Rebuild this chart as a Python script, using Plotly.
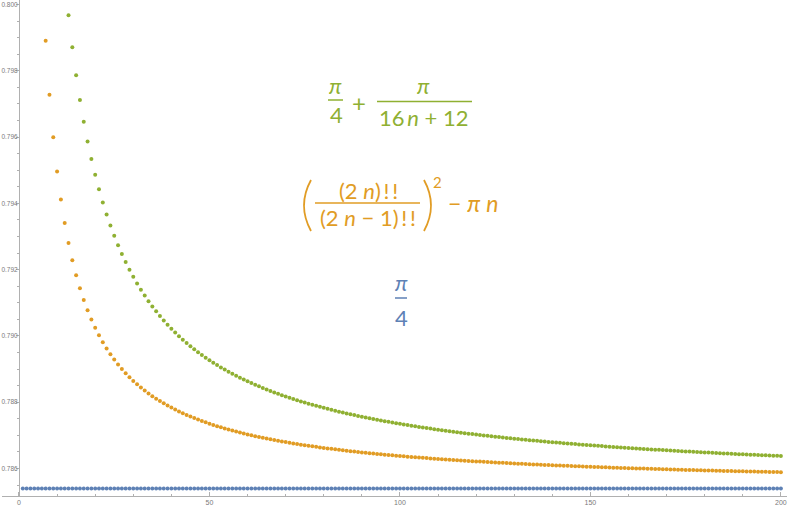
import plotly.graph_objects as go

# ---------------- data ----------------
n_values = list(range(1, 201))

# pi/4 (constant blue series)
blue_values = [0.785398] * 200

# ((2n)!!/(2n-1)!!)^2 - pi n   (orange series)
orange_values = [
    0.858407, 0.827926, 0.815222, 0.808323, 0.804005, 0.801050, 0.798904, 0.797274, 0.795994, 0.794964,
    0.794115, 0.793405, 0.792802, 0.792283, 0.791832, 0.791436, 0.791087, 0.790775, 0.790496, 0.790245,
    0.790017, 0.789809, 0.789620, 0.789446, 0.789285, 0.789138, 0.789000, 0.788873, 0.788754, 0.788643,
    0.788539, 0.788442, 0.788351, 0.788264, 0.788183, 0.788106, 0.788034, 0.787965, 0.787899, 0.787837,
    0.787778, 0.787722, 0.787668, 0.787617, 0.787568, 0.787521, 0.787476, 0.787433, 0.787392, 0.787352,
    0.787314, 0.787277, 0.787242, 0.787208, 0.787175, 0.787144, 0.787113, 0.787084, 0.787055, 0.787028,
    0.787001, 0.786975, 0.786950, 0.786926, 0.786903, 0.786880, 0.786858, 0.786837, 0.786816, 0.786796,
    0.786776, 0.786757, 0.786739, 0.786720, 0.786703, 0.786686, 0.786669, 0.786653, 0.786637, 0.786622,
    0.786607, 0.786592, 0.786577, 0.786563, 0.786550, 0.786537, 0.786524, 0.786511, 0.786498, 0.786486,
    0.786474, 0.786462, 0.786451, 0.786440, 0.786429, 0.786418, 0.786408, 0.786397, 0.786387, 0.786377,
    0.786368, 0.786358, 0.786349, 0.786340, 0.786331, 0.786322, 0.786313, 0.786305, 0.786297, 0.786289,
    0.786281, 0.786273, 0.786265, 0.786257, 0.786250, 0.786243, 0.786235, 0.786228, 0.786221, 0.786214,
    0.786208, 0.786201, 0.786195, 0.786188, 0.786182, 0.786176, 0.786170, 0.786164, 0.786158, 0.786152,
    0.786146, 0.786140, 0.786135, 0.786129, 0.786124, 0.786119, 0.786113, 0.786108, 0.786103, 0.786098,
    0.786093, 0.786088, 0.786083, 0.786079, 0.786074, 0.786069, 0.786065, 0.786060, 0.786056, 0.786051,
    0.786047, 0.786043, 0.786039, 0.786035, 0.786030, 0.786026, 0.786022, 0.786018, 0.786015, 0.786011,
    0.786007, 0.786003, 0.785999, 0.785996, 0.785992, 0.785989, 0.785985, 0.785982, 0.785978, 0.785975,
    0.785971, 0.785968, 0.785965, 0.785961, 0.785958, 0.785955, 0.785952, 0.785949, 0.785946, 0.785943,
    0.785940, 0.785937, 0.785934, 0.785931, 0.785928, 0.785925, 0.785922, 0.785920, 0.785917, 0.785914,
    0.785911, 0.785909, 0.785906, 0.785903, 0.785901, 0.785898, 0.785896, 0.785893, 0.785891, 0.785888,
]

# pi/4 + pi/(16n+12)   (green series)
green_values = [
    0.897598, 0.856798, 0.837758, 0.826735, 0.819546, 0.814487, 0.810734, 0.807838, 0.805537, 0.803663,
    0.802109, 0.800798, 0.799678, 0.798710, 0.797865, 0.797121, 0.796460, 0.795870, 0.795340, 0.794861,
    0.794426, 0.794029, 0.793666, 0.793332, 0.793023, 0.792738, 0.792474, 0.792228, 0.791998, 0.791784,
    0.791582, 0.791394, 0.791216, 0.791049, 0.790891, 0.790741, 0.790600, 0.790465, 0.790338, 0.790217,
    0.790101, 0.789991, 0.789886, 0.789786, 0.789690, 0.789598, 0.789510, 0.789426, 0.789345, 0.789267,
    0.789192, 0.789120, 0.789051, 0.788985, 0.788920, 0.788858, 0.788798, 0.788740, 0.788684, 0.788630,
    0.788578, 0.788527, 0.788478, 0.788431, 0.788385, 0.788340, 0.788296, 0.788254, 0.788213, 0.788174,
    0.788135, 0.788097, 0.788061, 0.788025, 0.787990, 0.787957, 0.787924, 0.787892, 0.787860, 0.787830,
    0.787800, 0.787771, 0.787743, 0.787715, 0.787688, 0.787662, 0.787636, 0.787611, 0.787586, 0.787562,
    0.787538, 0.787515, 0.787493, 0.787471, 0.787449, 0.787428, 0.787407, 0.787387, 0.787367, 0.787347,
    0.787328, 0.787309, 0.787291, 0.787273, 0.787255, 0.787238, 0.787221, 0.787204, 0.787187, 0.787171,
    0.787155, 0.787140, 0.787124, 0.787109, 0.787095, 0.787080, 0.787066, 0.787052, 0.787038, 0.787024,
    0.787011, 0.786998, 0.786985, 0.786972, 0.786960, 0.786947, 0.786935, 0.786923, 0.786912, 0.786900,
    0.786889, 0.786877, 0.786866, 0.786855, 0.786845, 0.786834, 0.786824, 0.786813, 0.786803, 0.786793,
    0.786783, 0.786774, 0.786764, 0.786755, 0.786745, 0.786736, 0.786727, 0.786718, 0.786709, 0.786701,
    0.786692, 0.786684, 0.786675, 0.786667, 0.786659, 0.786651, 0.786643, 0.786635, 0.786627, 0.786620,
    0.786612, 0.786605, 0.786597, 0.786590, 0.786583, 0.786576, 0.786569, 0.786562, 0.786555, 0.786548,
    0.786541, 0.786535, 0.786528, 0.786522, 0.786515, 0.786509, 0.786503, 0.786497, 0.786491, 0.786485,
    0.786479, 0.786473, 0.786467, 0.786461, 0.786455, 0.786450, 0.786444, 0.786439, 0.786433, 0.786428,
    0.786422, 0.786417, 0.786412, 0.786406, 0.786401, 0.786396, 0.786391, 0.786386, 0.786381, 0.786376,
]

x_tick_values = [0, 50, 100, 150, 200]
x_tick_labels = ["0", "50", "100", "150", "200"]
y_tick_values = [0.786, 0.788, 0.790, 0.792, 0.794, 0.796, 0.798, 0.800]
y_tick_labels = ["0.786", "0.788", "0.790", "0.792", "0.794", "0.796", "0.798", "0.800"]

# ---------------- styling ----------------
BLUE = "#5E81B5"
ORANGE = "#E19C24"
GREEN = "#8FB032"
AXIS = "#b0b0b0"
TICKTXT = "#7a7a7a"
MATH_FONT = "Lato, 'Open Sans', 'DejaVu Sans', sans-serif"

W, H = 800, 508
ML, MR, MT, MB = 2, 13, 0, 12
PW, PH = W - ML - MR, H - MT - MB

fig = go.Figure()
for vals, col in [(blue_values, BLUE), (orange_values, ORANGE), (green_values, GREEN)]:
    fig.add_trace(go.Scatter(
        x=n_values, y=vals, mode="markers",
        marker=dict(size=4, color=col, line=dict(width=0)),
        hoverinfo="x+y", showlegend=False, cliponaxis=True,
    ))

fig.update_layout(
    width=W, height=H,
    margin=dict(l=ML, r=MR, t=MT, b=MB, pad=0),
    paper_bgcolor="white", plot_bgcolor="white",
    showlegend=False,
    xaxis=dict(
        range=[-4.46, 201.6], showgrid=False, zeroline=False,
        showline=True, linecolor=AXIS, linewidth=1,
        tickmode="array", tickvals=x_tick_values, ticktext=x_tick_labels,
        ticks="inside", ticklen=4, tickcolor=AXIS, tickwidth=1,
        minor=dict(dtick=10, tick0=0, ticks="inside", ticklen=2, tickcolor=AXIS),
        tickfont=dict(family="Liberation Sans, Arial, sans-serif", size=7, color=TICKTXT),
        automargin=False,
    ),
    yaxis=dict(
        range=[0.78517, 0.800136], showgrid=False, zeroline=False,
        anchor="free", position=(19 - ML) / PW,
        showline=True, linecolor=AXIS, linewidth=1,
        tickmode="array", tickvals=y_tick_values, ticktext=y_tick_labels,
        ticks="outside", ticklen=3, tickcolor=AXIS, tickwidth=1,
        ticklabelstandoff=-3,
        minor=dict(dtick=0.0005, tick0=0.786, ticks="outside", ticklen=2, tickcolor=AXIS),
        tickfont=dict(family="Liberation Sans, Arial, sans-serif", size=6.5, color=TICKTXT),
        automargin=False,
    ),
)


def P(px, py):
    return (px - ML) / PW, (MT + PH - py) / PH


def label(px, py, text, color, size=22):
    x, y = P(px, py)
    fig.add_annotation(x=x, y=y, xref="paper", yref="paper", text=text,
                       showarrow=False, xanchor="center", yanchor="middle",
                       borderpad=0,
                       font=dict(family=MATH_FONT, size=size, color=color))


def bar(px0, px1, py, color):
    x0, y0 = P(px0, py)
    x1, _ = P(px1, py)
    fig.add_shape(type="line", xref="paper", yref="paper", x0=x0, x1=x1, y0=y0, y1=y0,
                  line=dict(color=color, width=1.5))


def paren(px_end, px_mid, py0, py1, color):
    xa, ya = P(px_end, py0)
    xm, ym = P(px_mid, (py0 + py1) / 2)
    xb, yb = P(px_end, py1)
    fig.add_shape(type="path", xref="paper", yref="paper",
                  path=f"M {xa},{ya} Q {xm},{ym} {xb},{yb}",
                  line=dict(color=color, width=1.8))


NB = "\u00a0"
TS = "\u2009"
PI = "<i>\u03c0</i>"
NI = "<i>n</i>"

# green: pi/4 + pi/(16n+12)
label(335.5, 86, PI, GREEN)
bar(328, 343, 100, GREEN)
label(336, 115, "4", GREEN)
label(359, 102, "+", GREEN, size=24)
label(423, 86, PI, GREEN)
bar(377, 472, 101.5, GREEN)
label(424, 117.5, f"16{TS}{NI}{NB}+{NB}12", GREEN)

# orange: ((2n)!!/(2n-1)!!)^2 - pi n
paren(311, 297, 180, 231, ORANGE)
paren(424, 438, 180, 231, ORANGE)
label(368.5, 190, f"(2{NB}{NI}){TS}!{TS}!", ORANGE, size=22)
bar(315, 420, 203, ORANGE)
label(368, 217, f"(2{NB}{NI}{NB}\u2212{NB}1){TS}!{TS}!", ORANGE, size=22)
label(437, 182, "2", ORANGE, size=15)
label(473, 203, f"\u2212{NB}{PI}{NB}{NI}", ORANGE, size=23)

# blue: pi/4
label(401, 282, PI, BLUE)
bar(395, 407, 298, BLUE)
label(401, 317.5, "4", BLUE)

fig.write_html("out.html", config={"displayModeBar": False},
               post_script="document.body.style.margin='0px';")
